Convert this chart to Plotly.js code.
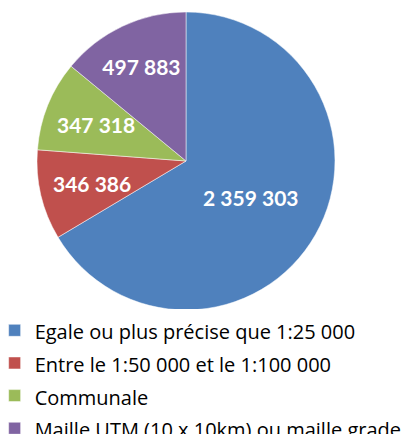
<!DOCTYPE html>
<html>
<head>
<meta charset="utf-8">
<script src="https://cdn.plot.ly/plotly-3.0.1.min.js"></script>
<style>html,body{margin:0;padding:0;background:#fff;}#chart{width:413px;height:434px;}</style>
</head>
<body>
<div id="chart"></div>
<script>
const categories = [
  "Egale ou plus précise que 1:25 000",
  "Entre le 1:50 000 et le 1:100 000",
  "Communale",
  "Maille UTM (10 x 10km) ou maille grade"
];
const values = [2359303, 346386, 347318, 497883];
const colors = ["#4F81BD", "#C0504D", "#9BBB59", "#8064A2"];

const W = 413, H = 434;
const domX = [0.0896, 0.8111], domY = [0.2857, 0.9724];
const labelFont = {family: "Lato, 'Open Sans', sans-serif", size: 21, color: "#ffffff", weight: "bold"};
// slices whose value label is drawn as an annotation along the slice bisector
const annotated = [false, true, true, false];
const labelRadius = 0.65;

const labels = categories.map(c => '<span style="font-size:20px">' + c + '</span>');

const trace = {
  type: "pie",
  labels: labels,
  values: values,
  sort: false,
  direction: "clockwise",
  rotation: 0,
  marker: {colors: colors, line: {color: "#ffffff", width: 0.5}},
  texttemplate: "%{value:,.0f}",
  textposition: annotated.map(a => a ? "none" : "inside"),
  insidetextorientation: "horizontal",
  textfont: labelFont,
  hoverinfo: "label+value+percent",
  domain: {x: domX, y: domY}
};

// annotation positions derived from the data (mid-angle of each slice)
const total = values.reduce((a, b) => a + b, 0);
const cx = (domX[0] + domX[1]) / 2, cy = (domY[0] + domY[1]) / 2;
const R = Math.min((domX[1] - domX[0]) * W, (domY[1] - domY[0]) * H) / 2;
const fmt = v => String(v).replace(/\B(?=(\d{3})+(?!\d))/g, " ");
const annotations = [];
let cum = 0;
values.forEach((v, i) => {
  const mid = (cum + v / 2) / total * 2 * Math.PI;
  cum += v;
  if (!annotated[i]) return;
  annotations.push({
    xref: "paper", yref: "paper",
    x: cx + labelRadius * R * Math.sin(mid) / W,
    y: cy + labelRadius * R * Math.cos(mid) / H,
    text: fmt(v), showarrow: false,
    xanchor: "center", yanchor: "middle",
    font: labelFont
  });
});

const layout = {
  width: W,
  height: H,
  margin: {l: 0, r: 0, t: 0, b: 0, autoexpand: false},
  separators: ", ",
  paper_bgcolor: "#ffffff",
  showlegend: true,
  uniformtext: {mode: "show", minsize: 21},
  annotations: annotations,
  legend: {
    orientation: "v",
    x: -0.013, xanchor: "left",
    y: 0.288, yanchor: "top",
    font: {family: "'Open Sans', Lato, sans-serif", size: 22.8, color: "#000000"},
    maxheight: 1000,
    traceorder: "normal"
  }
};

Plotly.newPlot("chart", [trace], layout, {displayModeBar: false, staticPlot: true});
</script>
</body>
</html>
